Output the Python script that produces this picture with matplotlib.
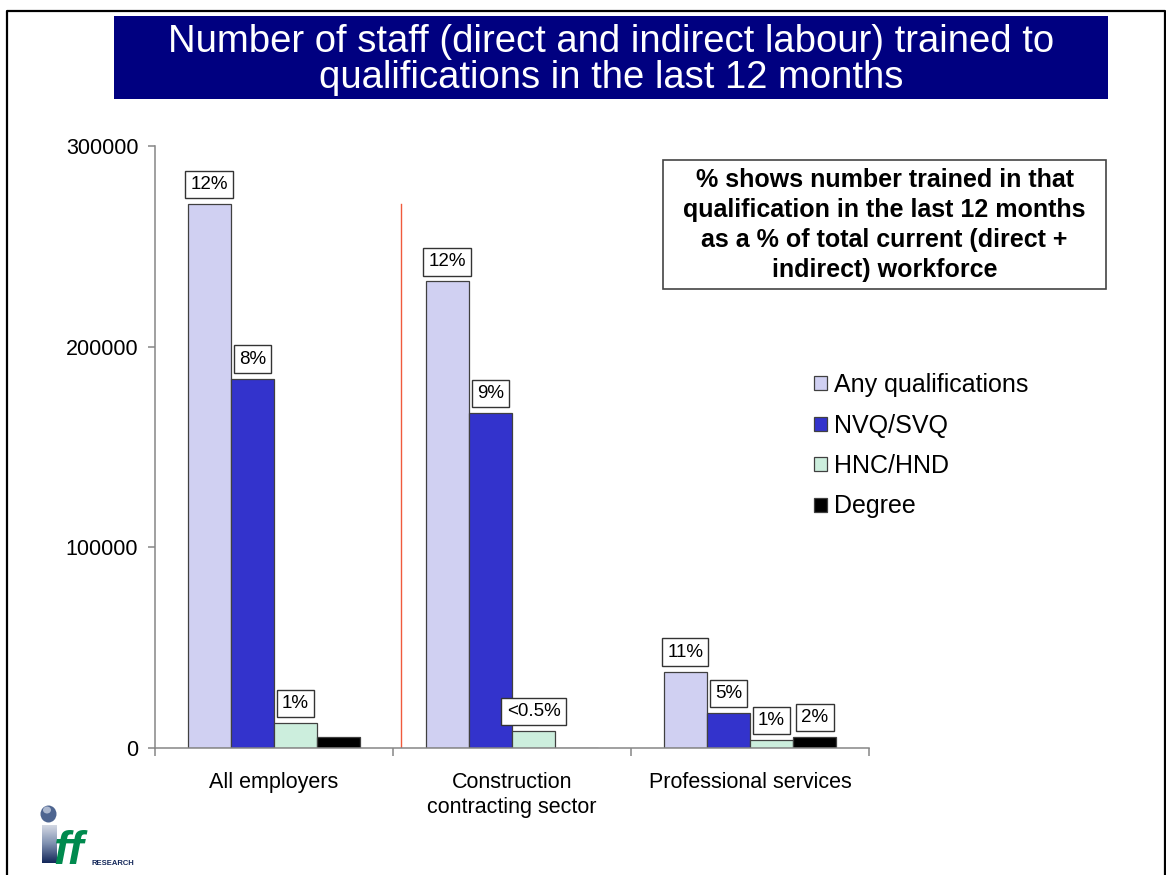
import numpy as np
import matplotlib
matplotlib.use("Agg")
import matplotlib.pyplot as plt
from matplotlib.patches import Patch, Rectangle, Ellipse
from matplotlib.lines import Line2D

plt.rcParams["font.family"] = ["Liberation Sans", "DejaVu Sans"]

# ---------------- data ----------------
categories = ["All employers", "Construction\ncontracting sector", "Professional services"]
series = ["Any qualifications", "NVQ/SVQ", "HNC/HND", "Degree"]
any_quals = [271000, 232500, 38000]
nvq_svq = [184000, 167000, 17500]
hnc_hnd = [12500, 8500, 4000]
degree = [5500, 0, 5500]
pct_labels = [
    ["12%", "8%", "1%", None],
    ["12%", "9%", "<0.5%", None],
    ["11%", "5%", "1%", "2%"],
]
yticks = [0, 100000, 200000, 300000]
title_lines = ["Number of staff (direct and indirect labour) trained to",
               "qualifications in the last 12 months"]
note_text = ("% shows number trained in that\nqualification in the last 12 months\n"
             "as a % of total current (direct +\nindirect) workforce")

colors = ["#D0D0F2", "#3333CC", "#CCEEDD", "#000000"]
W, H = 1166, 875


def fx(px):
    return px / W


def fy(py):
    return 1 - py / H


fig = plt.figure(figsize=(W / 100, H / 100), dpi=100)
fig.patch.set_facecolor("white")

# slide frame
fig.add_artist(Line2D([fx(7), fx(7), fx(1164.5), fx(1164.5)],
                      [0, fy(11), fy(11), 0], color="black", lw=1.6,
                      transform=fig.transFigure))

# title band
fig.add_artist(Rectangle((fx(114), fy(99)), fx(1108) - fx(114), fy(16) - fy(99),
                         facecolor="#000080", edgecolor="none", transform=fig.transFigure))
fig.text(fx(611), fy(52), title_lines[0], color="white", fontsize=27.5,
         ha="center", va="baseline")
fig.text(fx(611), fy(88), title_lines[1], color="white", fontsize=27.5,
         ha="center", va="baseline")

# ---------------- chart ----------------
ax = fig.add_axes([fx(155), fy(748), fx(869) - fx(155), fy(146) - fy(748)])
x = np.arange(len(categories))
w = 0.1814
offsets = np.array([-1.5, -0.5, 0.5, 1.5]) * w
all_vals = [any_quals, nvq_svq, hnc_hnd, degree]

for i, vals in enumerate(all_vals):
    ax.bar(x + offsets[i], vals, width=w, color=colors[i], edgecolor="#404040",
           linewidth=0.9, label=series[i], zorder=2)

for c in range(len(categories)):
    for i in range(4):
        lab = pct_labels[c][i]
        if lab is None:
            continue
        ax.annotate(lab, (x[c] + offsets[i], all_vals[i][c]), xytext=(0, 8),
                    textcoords="offset points", ha="center", va="bottom", fontsize=13.5,
                    bbox=dict(boxstyle="square,pad=0.28", facecolor="white",
                              edgecolor="#333333", linewidth=1.0), zorder=3)

# separator line between All employers and the sectors
ax.plot([0.534, 0.534], [0, any_quals[0]], color="#F05A3C", lw=1.0, zorder=1)

ax.set_xlim(-0.5, 2.5)
ax.set_ylim(0, 300000)
ax.set_yticks(yticks)
ax.set_yticklabels([str(t) for t in yticks], fontsize=15.5)
ax.set_xticks(x)
ax.set_xticklabels(categories, fontsize=15.5, linespacing=1.3)
ax.set_xticks([-0.5, 0.5, 1.5, 2.5], minor=True)
ax.tick_params(axis="x", which="major", length=0, pad=17)
ax.tick_params(axis="x", which="minor", length=6, color="#868686", width=1.1)
ax.tick_params(axis="y", length=5, color="#868686", width=1.1, pad=7)
for s in ["top", "right"]:
    ax.spines[s].set_visible(False)
for s in ["left", "bottom"]:
    ax.spines[s].set_color("#868686")
    ax.spines[s].set_linewidth(1.1)

handles = [Patch(facecolor=colors[i], edgecolor="#404040", linewidth=0.9) for i in range(4)]
ax.legend(handles, series, loc="upper left", bbox_to_anchor=(fx(814), fy(373)),
          bbox_transform=fig.transFigure, frameon=False, fontsize=18,
          handlelength=0.5, handleheight=0.5, handletextpad=0.3,
          labelspacing=0.66, borderpad=0, borderaxespad=0)

# note box
fig.add_artist(Rectangle((fx(663), fy(289)), fx(1106) - fx(663), fy(160) - fy(289),
                         facecolor="white", edgecolor="#444444", lw=1.2,
                         transform=fig.transFigure))
fig.text(fx(884.5), fy(225), note_text, fontsize=18, fontweight="bold",
         ha="center", va="center", linespacing=1.3)

# ---------------- logo ----------------
grad = np.linspace(0, 1, 64).reshape(-1, 1)
lax = fig.add_axes([fx(42), fy(863), fx(57) - fx(42), fy(825) - fy(863)])
lax.imshow(grad, aspect="auto", cmap=matplotlib.colors.LinearSegmentedColormap.from_list(
    "stem", ["#D8DCE6", "#7F90B0", "#14285A"]))
lax.axis("off")
fig.add_artist(Ellipse((fx(48.5), fy(814)), 16 / W, 17 / H, facecolor="#4E6590",
                       edgecolor="none", transform=fig.transFigure))
fig.add_artist(Ellipse((fx(47), fy(810)), 8 / W, 7 / H, facecolor="#C4CEE0",
                       edgecolor="none", transform=fig.transFigure, alpha=0.8))
fig.text(fx(53), fy(864), "ff", fontsize=34, fontweight="bold", style="italic",
         color="#008A4E", ha="left", va="baseline")
fig.text(fx(92), fy(865), "RESEARCH", fontsize=5.5, fontweight="bold",
         color="#14285A", ha="left", va="baseline")

fig.savefig("out.png", dpi=100)
